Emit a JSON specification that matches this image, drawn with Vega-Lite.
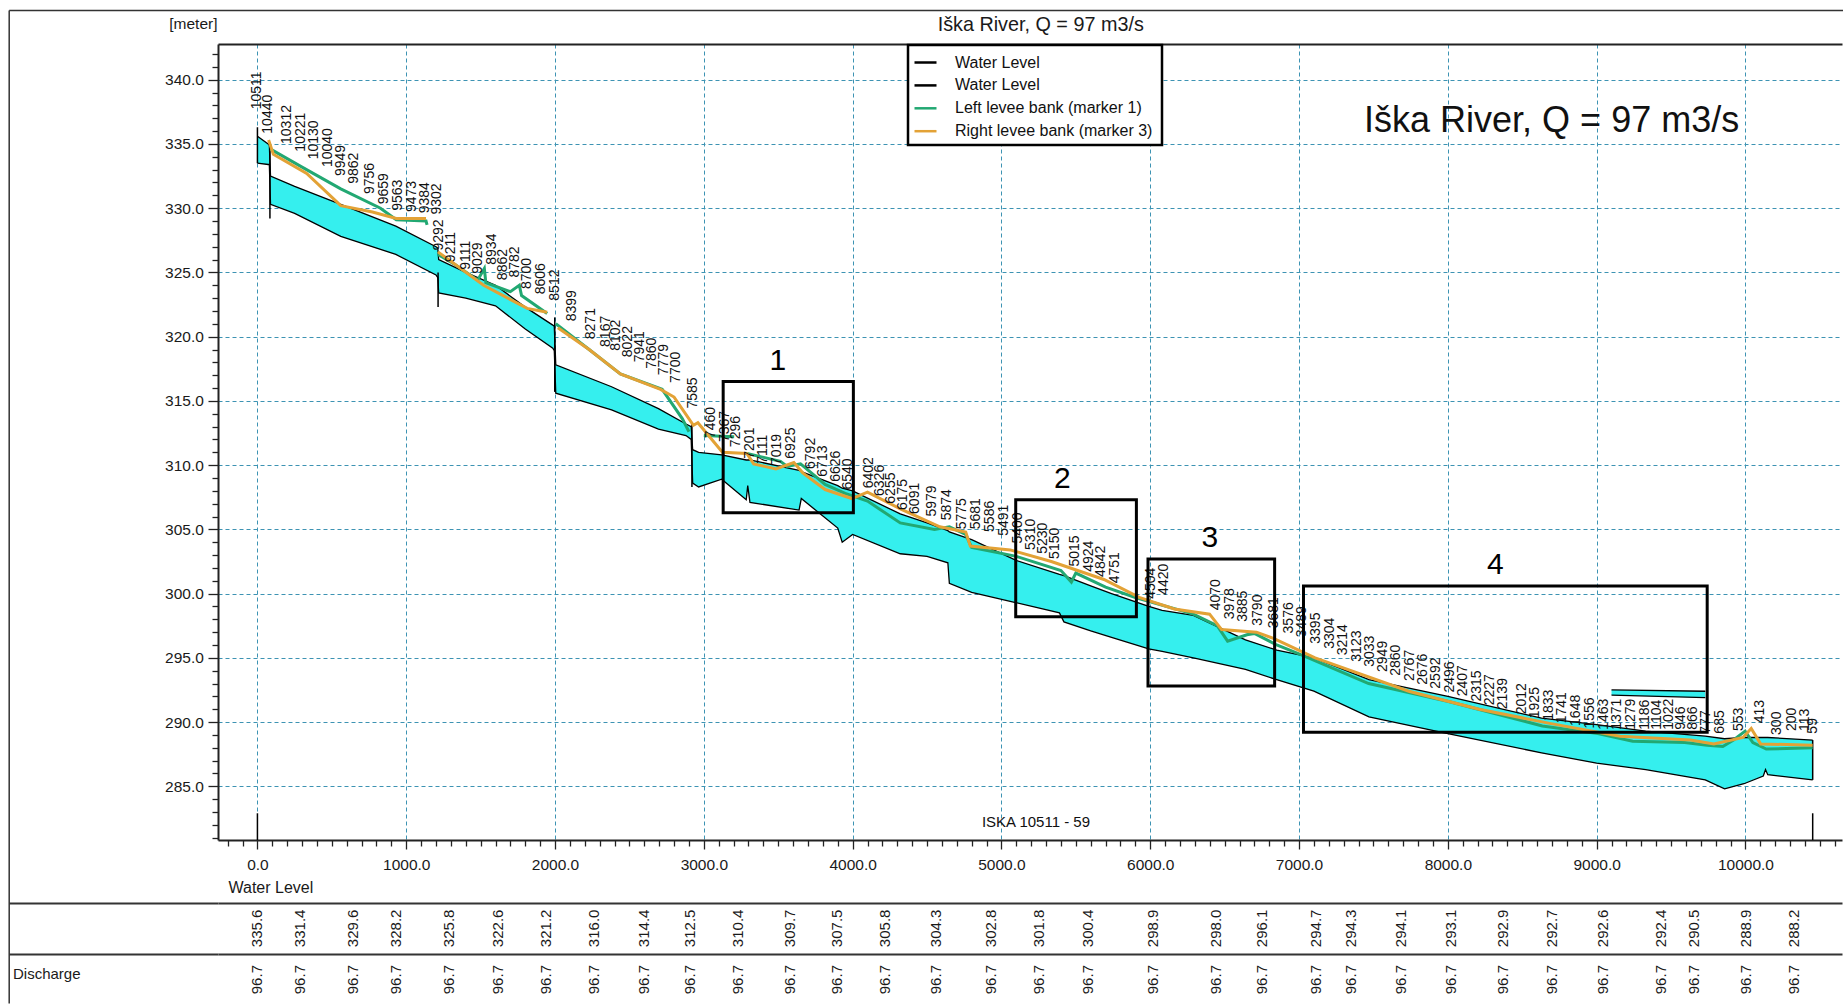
{
  "$schema": "https://vega.github.io/schema/vega-lite/v6.json",
  "padding": {"left": 7, "top": 10, "right": 0, "bottom": 0},
  "autosize": {"type": "pad"},
  "background": "white",
  "spacing": 63,
  "bounds": "flush",
  "config": {
    "font": "Liberation Sans",
    "view": {"stroke": null},
    "axis": {"labelFont": "Liberation Sans", "titleFont": "Liberation Sans", "labelColor": "#1a1a1a", "titleColor": "#1a1a1a", "titleFontWeight": "normal", "domainColor": "#222222", "tickColor": "#222222"},
    "legend": {"strokeWidth": 2.5}
  },
  "datasets": {
    "profile": [
      {"dist": 0, "wl": 335.6, "bed": 333.5, "seg": "A"},
      {"dist": 72, "wl": 335.0, "bed": 333.4, "seg": "A"},
      {"dist": 80, "wl": 334.9, "bed": 333.4, "seg": "A"},
      {"dist": 88, "wl": 332.5, "bed": 330.3, "seg": "A"},
      {"dist": 250, "wl": 331.7, "bed": 329.6, "seg": "A"},
      {"dist": 560, "wl": 330.3, "bed": 327.8, "seg": "A"},
      {"dist": 930, "wl": 328.6, "bed": 326.4, "seg": "A"},
      {"dist": 1200, "wl": 327.0, "bed": 324.8, "seg": "A"},
      {"dist": 1212, "wl": 326.9, "bed": 324.6, "seg": "A"},
      {"dist": 1218, "wl": 326.0, "bed": 323.4, "seg": "A"},
      {"dist": 1400, "wl": 325.0, "bed": 323.0, "seg": "A"},
      {"dist": 1600, "wl": 324.0, "bed": 322.4, "seg": "A"},
      {"dist": 1800, "wl": 322.3, "bed": 320.6, "seg": "A"},
      {"dist": 1985, "wl": 320.9, "bed": 319.1, "seg": "A"},
      {"dist": 1995, "wl": 320.8, "bed": 318.9, "seg": "A"},
      {"dist": 2005, "wl": 317.8, "bed": 315.6, "seg": "A"},
      {"dist": 2380, "wl": 316.1, "bed": 314.3, "seg": "A"},
      {"dist": 2695, "wl": 314.4, "bed": 312.8, "seg": "A"},
      {"dist": 2880, "wl": 313.2, "bed": 312.3, "seg": "A"},
      {"dist": 2915, "wl": 313.0, "bed": 312.0, "seg": "A"},
      {"dist": 2925, "wl": 311.2, "bed": 308.6, "seg": "A"},
      {"dist": 2965, "wl": 311.0, "bed": 308.3, "seg": "A"},
      {"dist": 3120, "wl": 310.8, "bed": 308.9, "seg": "A"},
      {"dist": 3285, "wl": 310.4, "bed": 307.3, "seg": "A"},
      {"dist": 3295, "wl": 310.4, "bed": 308.4, "seg": "A"},
      {"dist": 3310, "wl": 310.4, "bed": 307.1, "seg": "A"},
      {"dist": 3640, "wl": 309.6, "bed": 306.5, "seg": "A"},
      {"dist": 3655, "wl": 309.5, "bed": 307.4, "seg": "A"},
      {"dist": 3900, "wl": 308.4, "bed": 305.1, "seg": "A"},
      {"dist": 3930, "wl": 308.2, "bed": 304.0, "seg": "A"},
      {"dist": 4000, "wl": 308.0, "bed": 304.6, "seg": "A"},
      {"dist": 4320, "wl": 306.2, "bed": 303.1, "seg": "A"},
      {"dist": 4500, "wl": 305.5, "bed": 302.9, "seg": "A"},
      {"dist": 4640, "wl": 304.9, "bed": 302.4, "seg": "A"},
      {"dist": 4650, "wl": 304.8, "bed": 300.8, "seg": "A"},
      {"dist": 4800, "wl": 304.2, "bed": 300.1, "seg": "A"},
      {"dist": 5095, "wl": 302.6, "bed": 299.3, "seg": "A"},
      {"dist": 5390, "wl": 301.5, "bed": 298.5, "seg": "A"},
      {"dist": 5420, "wl": 301.4, "bed": 297.8, "seg": "A"},
      {"dist": 5600, "wl": 300.6, "bed": 297.1, "seg": "A"},
      {"dist": 5740, "wl": 300.0, "bed": 296.6, "seg": "A"},
      {"dist": 5990, "wl": 299.0, "bed": 295.7, "seg": "A"},
      {"dist": 6080, "wl": 298.7, "bed": 295.5, "seg": "A"},
      {"dist": 6290, "wl": 298.3, "bed": 295.0, "seg": "A"},
      {"dist": 6640, "wl": 296.4, "bed": 294.1, "seg": "A"},
      {"dist": 6850, "wl": 295.6, "bed": 293.3, "seg": "A"},
      {"dist": 7100, "wl": 295.0, "bed": 292.4, "seg": "A"},
      {"dist": 7470, "wl": 293.3, "bed": 290.4, "seg": "A"},
      {"dist": 8000, "wl": 292.0, "bed": 289.1, "seg": "A"},
      {"dist": 8630, "wl": 290.3, "bed": 287.6, "seg": "A"},
      {"dist": 9000, "wl": 289.8, "bed": 286.8, "seg": "A"},
      {"dist": 9330, "wl": 289.3, "bed": 286.3, "seg": "A"},
      {"dist": 9730, "wl": 288.9, "bed": 285.5, "seg": "A"},
      {"dist": 9860, "wl": 288.7, "bed": 284.8, "seg": "A"},
      {"dist": 9990, "wl": 288.8, "bed": 285.2, "seg": "A"},
      {"dist": 10120, "wl": 288.8, "bed": 285.8, "seg": "A"},
      {"dist": 10135, "wl": 288.8, "bed": 286.3, "seg": "A"},
      {"dist": 10150, "wl": 288.8, "bed": 285.9, "seg": "A"},
      {"dist": 10452, "wl": 288.6, "bed": 285.5, "seg": "A"},
      {"dist": 9100, "wl": 292.5, "bed": 292.1, "seg": "B"},
      {"dist": 9730, "wl": 292.4, "bed": 291.9, "seg": "B"}
    ],
    "levee": [
      {"dist": 88, "elev": 334.6, "series": "left", "seg": 1},
      {"dist": 300, "elev": 333.2, "series": "left", "seg": 1},
      {"dist": 560, "elev": 331.5, "series": "left", "seg": 1},
      {"dist": 827, "elev": 330.0, "series": "left", "seg": 1},
      {"dist": 933, "elev": 329.1, "series": "left", "seg": 1},
      {"dist": 1133, "elev": 329.0, "series": "left", "seg": 1},
      {"dist": 1140, "elev": 328.7, "series": "left", "seg": 1},
      {"dist": 1213, "elev": 326.4, "series": "left", "seg": 2},
      {"dist": 1330, "elev": 325.6, "series": "left", "seg": 2},
      {"dist": 1480, "elev": 324.4, "series": "left", "seg": 2},
      {"dist": 1525, "elev": 325.3, "series": "left", "seg": 2},
      {"dist": 1535, "elev": 324.2, "series": "left", "seg": 2},
      {"dist": 1700, "elev": 323.5, "series": "left", "seg": 2},
      {"dist": 1760, "elev": 324.0, "series": "left", "seg": 2},
      {"dist": 1775, "elev": 323.2, "series": "left", "seg": 2},
      {"dist": 1947, "elev": 321.8, "series": "left", "seg": 2},
      {"dist": 2005, "elev": 321.0, "series": "left", "seg": 3},
      {"dist": 2229, "elev": 319.0, "series": "left", "seg": 3},
      {"dist": 2439, "elev": 317.1, "series": "left", "seg": 3},
      {"dist": 2720, "elev": 315.9, "series": "left", "seg": 3},
      {"dist": 2856, "elev": 313.6, "series": "left", "seg": 3},
      {"dist": 2900, "elev": 312.6, "series": "left", "seg": 3},
      {"dist": 3000, "elev": 312.3, "series": "left", "seg": 4},
      {"dist": 3204, "elev": 312.2, "series": "left", "seg": 4},
      {"dist": 3290, "elev": 310.9, "series": "left", "seg": 5},
      {"dist": 3515, "elev": 310.3, "series": "left", "seg": 5},
      {"dist": 3560, "elev": 309.9, "series": "left", "seg": 5},
      {"dist": 3650, "elev": 310.1, "series": "left", "seg": 5},
      {"dist": 3815, "elev": 308.5, "series": "left", "seg": 5},
      {"dist": 3950, "elev": 307.8, "series": "left", "seg": 5},
      {"dist": 4100, "elev": 307.2, "series": "left", "seg": 5},
      {"dist": 4320, "elev": 305.5, "series": "left", "seg": 5},
      {"dist": 4550, "elev": 305.0, "series": "left", "seg": 5},
      {"dist": 4650, "elev": 305.2, "series": "left", "seg": 5},
      {"dist": 4760, "elev": 304.6, "series": "left", "seg": 5},
      {"dist": 4800, "elev": 303.6, "series": "left", "seg": 5},
      {"dist": 5100, "elev": 302.9, "series": "left", "seg": 5},
      {"dist": 5400, "elev": 301.8, "series": "left", "seg": 5},
      {"dist": 5470, "elev": 300.9, "series": "left", "seg": 5},
      {"dist": 5500, "elev": 301.6, "series": "left", "seg": 5},
      {"dist": 5700, "elev": 300.5, "series": "left", "seg": 5},
      {"dist": 5900, "elev": 299.7, "series": "left", "seg": 5},
      {"dist": 6290, "elev": 298.4, "series": "left", "seg": 5},
      {"dist": 6450, "elev": 297.5, "series": "left", "seg": 5},
      {"dist": 6520, "elev": 296.3, "series": "left", "seg": 5},
      {"dist": 6650, "elev": 296.8, "series": "left", "seg": 5},
      {"dist": 6700, "elev": 296.9, "series": "left", "seg": 5},
      {"dist": 6850, "elev": 296.0, "series": "left", "seg": 5},
      {"dist": 7000, "elev": 295.3, "series": "left", "seg": 5},
      {"dist": 7468, "elev": 293.0, "series": "left", "seg": 5},
      {"dist": 8005, "elev": 291.6, "series": "left", "seg": 5},
      {"dist": 8635, "elev": 289.7, "series": "left", "seg": 5},
      {"dist": 9008, "elev": 289.1, "series": "left", "seg": 5},
      {"dist": 9242, "elev": 288.5, "series": "left", "seg": 5},
      {"dist": 9592, "elev": 288.4, "series": "left", "seg": 5},
      {"dist": 9743, "elev": 288.2, "series": "left", "seg": 5},
      {"dist": 9848, "elev": 288.1, "series": "left", "seg": 5},
      {"dist": 9920, "elev": 288.6, "series": "left", "seg": 5},
      {"dist": 9998, "elev": 289.3, "series": "left", "seg": 5},
      {"dist": 10050, "elev": 288.4, "series": "left", "seg": 5},
      {"dist": 10140, "elev": 287.9, "series": "left", "seg": 5},
      {"dist": 10452, "elev": 288.0, "series": "left", "seg": 5},
      {"dist": 75, "elev": 335.3, "series": "right", "seg": 1},
      {"dist": 107, "elev": 334.2, "series": "right", "seg": 1},
      {"dist": 331, "elev": 332.7, "series": "right", "seg": 1},
      {"dist": 560, "elev": 330.2, "series": "right", "seg": 1},
      {"dist": 773, "elev": 329.7, "series": "right", "seg": 1},
      {"dist": 933, "elev": 329.2, "series": "right", "seg": 1},
      {"dist": 1133, "elev": 329.2, "series": "right", "seg": 1},
      {"dist": 1213, "elev": 326.6, "series": "right", "seg": 2},
      {"dist": 1520, "elev": 324.0, "series": "right", "seg": 2},
      {"dist": 1813, "elev": 322.2, "series": "right", "seg": 2},
      {"dist": 1947, "elev": 321.9, "series": "right", "seg": 2},
      {"dist": 2019, "elev": 320.7, "series": "right", "seg": 3},
      {"dist": 2229, "elev": 319.0, "series": "right", "seg": 3},
      {"dist": 2439, "elev": 317.1, "series": "right", "seg": 3},
      {"dist": 2709, "elev": 315.9, "series": "right", "seg": 3},
      {"dist": 2800, "elev": 315.3, "series": "right", "seg": 3},
      {"dist": 2930, "elev": 313.1, "series": "right", "seg": 3},
      {"dist": 2960, "elev": 313.3, "series": "right", "seg": 3},
      {"dist": 3125, "elev": 311.0, "series": "right", "seg": 3},
      {"dist": 3290, "elev": 310.9, "series": "right", "seg": 3},
      {"dist": 3335, "elev": 310.1, "series": "right", "seg": 3},
      {"dist": 3485, "elev": 309.7, "series": "right", "seg": 3},
      {"dist": 3605, "elev": 310.2, "series": "right", "seg": 3},
      {"dist": 3665, "elev": 309.4, "series": "right", "seg": 3},
      {"dist": 3815, "elev": 308.1, "series": "right", "seg": 3},
      {"dist": 3995, "elev": 307.4, "series": "right", "seg": 3},
      {"dist": 4100, "elev": 307.9, "series": "right", "seg": 3},
      {"dist": 4320, "elev": 306.6, "series": "right", "seg": 3},
      {"dist": 4586, "elev": 305.2, "series": "right", "seg": 3},
      {"dist": 4760, "elev": 304.8, "series": "right", "seg": 3},
      {"dist": 4791, "elev": 303.7, "series": "right", "seg": 3},
      {"dist": 5059, "elev": 303.4, "series": "right", "seg": 3},
      {"dist": 5335, "elev": 302.5, "series": "right", "seg": 3},
      {"dist": 5689, "elev": 301.1, "series": "right", "seg": 3},
      {"dist": 5926, "elev": 299.7, "series": "right", "seg": 3},
      {"dist": 6162, "elev": 298.8, "series": "right", "seg": 3},
      {"dist": 6399, "elev": 298.4, "series": "right", "seg": 3},
      {"dist": 6480, "elev": 297.2, "series": "right", "seg": 3},
      {"dist": 6714, "elev": 297.0, "series": "right", "seg": 3},
      {"dist": 6832, "elev": 296.5, "series": "right", "seg": 3},
      {"dist": 7108, "elev": 295.0, "series": "right", "seg": 3},
      {"dist": 7738, "elev": 292.4, "series": "right", "seg": 3},
      {"dist": 8211, "elev": 291.0, "series": "right", "seg": 3},
      {"dist": 8684, "elev": 289.9, "series": "right", "seg": 3},
      {"dist": 9157, "elev": 288.9, "series": "right", "seg": 3},
      {"dist": 9630, "elev": 288.6, "series": "right", "seg": 3},
      {"dist": 9788, "elev": 288.3, "series": "right", "seg": 3},
      {"dist": 9984, "elev": 288.8, "series": "right", "seg": 3},
      {"dist": 10039, "elev": 289.5, "series": "right", "seg": 3},
      {"dist": 10102, "elev": 288.3, "series": "right", "seg": 3},
      {"dist": 10452, "elev": 288.2, "series": "right", "seg": 3}
    ],
    "weirs": [
      {"dist": 0, "top": 336.3, "bottom": 333.5},
      {"dist": 84, "top": 334.7, "bottom": 329.2},
      {"dist": 1214, "top": 325.0, "bottom": 322.3},
      {"dist": 1998, "top": 321.5, "bottom": 315.7},
      {"dist": 2920, "top": 313.2, "bottom": 308.3},
      {"dist": 10452, "top": 288.6, "bottom": 285.5},
      {"dist": 0, "top": 282.9, "bottom": 280.82},
      {"dist": 10452, "top": 282.9, "bottom": 280.82}
    ],
    "sections": [
      {"id": "10511", "dist": 0, "elev": 337.7}, {"id": "10440", "dist": 71, "elev": 335.8}, {"id": "10312", "dist": 199, "elev": 335.0}, {"id": "10221", "dist": 290, "elev": 334.4}, {"id": "10130", "dist": 381, "elev": 333.8}, {"id": "10040", "dist": 471, "elev": 333.2}, {"id": "9949", "dist": 562, "elev": 332.5}, {"id": "9862", "dist": 649, "elev": 331.9}, {"id": "9756", "dist": 755, "elev": 331.1}, {"id": "9659", "dist": 852, "elev": 330.3}, {"id": "9563", "dist": 948, "elev": 329.8}, {"id": "9473", "dist": 1038, "elev": 329.7}, {"id": "9384", "dist": 1127, "elev": 329.6}, {"id": "9302", "dist": 1209, "elev": 329.5},
      {"id": "9292", "dist": 1219, "elev": 326.7}, {"id": "9211", "dist": 1300, "elev": 325.8}, {"id": "9111", "dist": 1400, "elev": 325.2}, {"id": "9029", "dist": 1482, "elev": 324.9}, {"id": "8934", "dist": 1577, "elev": 325.6}, {"id": "8862", "dist": 1649, "elev": 324.4}, {"id": "8782", "dist": 1729, "elev": 324.6}, {"id": "8700", "dist": 1811, "elev": 323.7}, {"id": "8606", "dist": 1905, "elev": 323.3}, {"id": "8512", "dist": 1999, "elev": 322.8},
      {"id": "8399", "dist": 2112, "elev": 321.2}, {"id": "8271", "dist": 2240, "elev": 319.8}, {"id": "8167", "dist": 2344, "elev": 319.2}, {"id": "8102", "dist": 2409, "elev": 318.9}, {"id": "8022", "dist": 2489, "elev": 318.4}, {"id": "7941", "dist": 2570, "elev": 318.0}, {"id": "7860", "dist": 2651, "elev": 317.5}, {"id": "7779", "dist": 2732, "elev": 317.0}, {"id": "7700", "dist": 2811, "elev": 316.4}, {"id": "7585", "dist": 2926, "elev": 314.4}, {"id": "7460", "dist": 3051, "elev": 312.1},
      {"id": "7367", "dist": 3144, "elev": 311.8}, {"id": "7296", "dist": 3215, "elev": 311.4}, {"id": "7201", "dist": 3310, "elev": 310.5}, {"id": "7111", "dist": 3400, "elev": 310.1}, {"id": "7019", "dist": 3492, "elev": 310.0}, {"id": "6925", "dist": 3586, "elev": 310.5}, {"id": "6792", "dist": 3719, "elev": 309.7}, {"id": "6713", "dist": 3798, "elev": 309.1}, {"id": "6626", "dist": 3885, "elev": 308.7}, {"id": "6540", "dist": 3971, "elev": 308.1}, {"id": "6402", "dist": 4109, "elev": 308.2},
      {"id": "6326", "dist": 4185, "elev": 307.6}, {"id": "6255", "dist": 4256, "elev": 307.0}, {"id": "6175", "dist": 4336, "elev": 306.5}, {"id": "6091", "dist": 4420, "elev": 306.2}, {"id": "5979", "dist": 4532, "elev": 306.0}, {"id": "5874", "dist": 4637, "elev": 305.7}, {"id": "5775", "dist": 4736, "elev": 305.0}, {"id": "5681", "dist": 4830, "elev": 305.0}, {"id": "5586", "dist": 4925, "elev": 304.8}, {"id": "5491", "dist": 5020, "elev": 304.5}, {"id": "5400", "dist": 5111, "elev": 303.9},
      {"id": "5310", "dist": 5201, "elev": 303.4}, {"id": "5230", "dist": 5281, "elev": 303.1}, {"id": "5150", "dist": 5361, "elev": 302.7}, {"id": "5015", "dist": 5496, "elev": 302.1}, {"id": "4924", "dist": 5587, "elev": 301.7}, {"id": "4842", "dist": 5669, "elev": 301.3}, {"id": "4751", "dist": 5760, "elev": 300.8},
      {"id": "4504", "dist": 6007, "elev": 299.6}, {"id": "4420", "dist": 6091, "elev": 299.9}, {"id": "4070", "dist": 6441, "elev": 298.7}, {"id": "3978", "dist": 6533, "elev": 298.0}, {"id": "3885", "dist": 6626, "elev": 297.8}, {"id": "3790", "dist": 6721, "elev": 297.5}, {"id": "3681", "dist": 6830, "elev": 297.3},
      {"id": "3576", "dist": 6935, "elev": 296.9}, {"id": "3489", "dist": 7022, "elev": 296.6}, {"id": "3395", "dist": 7116, "elev": 296.1}, {"id": "3304", "dist": 7207, "elev": 295.7}, {"id": "3214", "dist": 7297, "elev": 295.2}, {"id": "3123", "dist": 7388, "elev": 294.7}, {"id": "3033", "dist": 7478, "elev": 294.3}, {"id": "2949", "dist": 7562, "elev": 293.9}, {"id": "2860", "dist": 7651, "elev": 293.6}, {"id": "2767", "dist": 7744, "elev": 293.2}, {"id": "2676", "dist": 7835, "elev": 292.9}, {"id": "2592", "dist": 7919, "elev": 292.6}, {"id": "2496", "dist": 8015, "elev": 292.3}, {"id": "2407", "dist": 8104, "elev": 292.0}, {"id": "2315", "dist": 8196, "elev": 291.6}, {"id": "2227", "dist": 8284, "elev": 291.3}, {"id": "2139", "dist": 8372, "elev": 291.0}, {"id": "2012", "dist": 8499, "elev": 290.6}, {"id": "1925", "dist": 8586, "elev": 290.3}, {"id": "1833", "dist": 8678, "elev": 290.1}, {"id": "1741", "dist": 8770, "elev": 289.9}, {"id": "1648", "dist": 8863, "elev": 289.7}, {"id": "1556", "dist": 8955, "elev": 289.5}, {"id": "1463", "dist": 9048, "elev": 289.4}, {"id": "1371", "dist": 9140, "elev": 289.4}, {"id": "1279", "dist": 9232, "elev": 289.4}, {"id": "1186", "dist": 9325, "elev": 289.4}, {"id": "1104", "dist": 9407, "elev": 289.4}, {"id": "1022", "dist": 9489, "elev": 289.4}, {"id": "946", "dist": 9565, "elev": 289.4}, {"id": "866", "dist": 9645, "elev": 289.4}, {"id": "777", "dist": 9734, "elev": 289.1}, {"id": "685", "dist": 9826, "elev": 289.1}, {"id": "553", "dist": 9958, "elev": 289.3}, {"id": "413", "dist": 10098, "elev": 289.9}, {"id": "300", "dist": 10211, "elev": 289.0}, {"id": "200", "dist": 10311, "elev": 289.3}, {"id": "113", "dist": 10398, "elev": 289.3}, {"id": "59", "dist": 10452, "elev": 289.1}
    ],
    "boxes": [
      {"box": "1", "d1": 3130, "d2": 4005, "lo": 306.3, "hi": 316.5, "cdist": 3498},
      {"box": "2", "d1": 5096, "d2": 5907, "lo": 298.2, "hi": 307.3, "cdist": 5409},
      {"box": "3", "d1": 5985, "d2": 6836, "lo": 292.8, "hi": 302.7, "cdist": 6400},
      {"box": "4", "d1": 7030, "d2": 9743, "lo": 289.2, "hi": 300.6, "cdist": 8320}
    ],
    "table": [
      {"dist": 0, "row": "Water Level", "val": 335.6}, {"dist": 285, "row": "Water Level", "val": 331.4}, {"dist": 640, "row": "Water Level", "val": 329.6}, {"dist": 930, "row": "Water Level", "val": 328.2}, {"dist": 1285, "row": "Water Level", "val": 325.8}, {"dist": 1620, "row": "Water Level", "val": 322.6}, {"dist": 1940, "row": "Water Level", "val": 321.2}, {"dist": 2265, "row": "Water Level", "val": 316.0}, {"dist": 2596, "row": "Water Level", "val": 314.4}, {"dist": 2905, "row": "Water Level", "val": 312.5}, {"dist": 3230, "row": "Water Level", "val": 310.4}, {"dist": 3578, "row": "Water Level", "val": 309.7}, {"dist": 3895, "row": "Water Level", "val": 307.5}, {"dist": 4215, "row": "Water Level", "val": 305.8}, {"dist": 4560, "row": "Water Level", "val": 304.3}, {"dist": 4930, "row": "Water Level", "val": 302.8}, {"dist": 5250, "row": "Water Level", "val": 301.8}, {"dist": 5585, "row": "Water Level", "val": 300.4}, {"dist": 6020, "row": "Water Level", "val": 298.9}, {"dist": 6445, "row": "Water Level", "val": 298.0}, {"dist": 6752, "row": "Water Level", "val": 296.1}, {"dist": 7117, "row": "Water Level", "val": 294.7}, {"dist": 7347, "row": "Water Level", "val": 294.3}, {"dist": 7687, "row": "Water Level", "val": 294.1}, {"dist": 8019, "row": "Water Level", "val": 293.1}, {"dist": 8374, "row": "Water Level", "val": 292.9}, {"dist": 8698, "row": "Water Level", "val": 292.7}, {"dist": 9046, "row": "Water Level", "val": 292.6}, {"dist": 9433, "row": "Water Level", "val": 292.4}, {"dist": 9654, "row": "Water Level", "val": 290.5}, {"dist": 10001, "row": "Water Level", "val": 288.9}, {"dist": 10325, "row": "Water Level", "val": 288.2},
      {"dist": 0, "row": "Discharge", "val": 96.7}, {"dist": 285, "row": "Discharge", "val": 96.7}, {"dist": 640, "row": "Discharge", "val": 96.7}, {"dist": 930, "row": "Discharge", "val": 96.7}, {"dist": 1285, "row": "Discharge", "val": 96.7}, {"dist": 1620, "row": "Discharge", "val": 96.7}, {"dist": 1940, "row": "Discharge", "val": 96.7}, {"dist": 2265, "row": "Discharge", "val": 96.7}, {"dist": 2596, "row": "Discharge", "val": 96.7}, {"dist": 2905, "row": "Discharge", "val": 96.7}, {"dist": 3230, "row": "Discharge", "val": 96.7}, {"dist": 3578, "row": "Discharge", "val": 96.7}, {"dist": 3895, "row": "Discharge", "val": 96.7}, {"dist": 4215, "row": "Discharge", "val": 96.7}, {"dist": 4560, "row": "Discharge", "val": 96.7}, {"dist": 4930, "row": "Discharge", "val": 96.7}, {"dist": 5250, "row": "Discharge", "val": 96.7}, {"dist": 5585, "row": "Discharge", "val": 96.7}, {"dist": 6020, "row": "Discharge", "val": 96.7}, {"dist": 6445, "row": "Discharge", "val": 96.7}, {"dist": 6752, "row": "Discharge", "val": 96.7}, {"dist": 7117, "row": "Discharge", "val": 96.7}, {"dist": 7347, "row": "Discharge", "val": 96.7}, {"dist": 7687, "row": "Discharge", "val": 96.7}, {"dist": 8019, "row": "Discharge", "val": 96.7}, {"dist": 8374, "row": "Discharge", "val": 96.7}, {"dist": 8698, "row": "Discharge", "val": 96.7}, {"dist": 9046, "row": "Discharge", "val": 96.7}, {"dist": 9433, "row": "Discharge", "val": 96.7}, {"dist": 9654, "row": "Discharge", "val": 96.7}, {"dist": 10001, "row": "Discharge", "val": 96.7}, {"dist": 10325, "row": "Discharge", "val": 96.7}
    ]
  },
  "vconcat": [
    {
      "width": 1624,
      "height": 796,
      "resolve": {"scale": {"x": "independent", "y": "independent"}, "axis": {"x": "independent", "y": "independent"}},
      "layer": [
        {
          "data": {"values": [{}]},
          "mark": {"type": "point", "opacity": 0, "size": 1},
          "encoding": {
            "x": {"datum": 0.5, "type": "quantitative", "scale": {"domain": [0, 1], "range": [-209.3, 1625.7], "nice": false, "zero": false},
              "axis": {"orient": "top", "offset": 34, "domain": true, "domainColor": "#333333", "domainWidth": 1.5, "ticks": false, "labels": false, "grid": false, "title": null}},
            "y": {"datum": 0.5, "type": "quantitative", "scale": {"domain": [0, 1], "range": [959, -34], "nice": false, "zero": false},
              "axis": {"orient": "left", "offset": 209.3, "domain": true, "domainColor": "#333333", "domainWidth": 1.5, "ticks": false, "labels": false, "grid": false, "title": null}}
          }
        },
        {
          "resolve": {"axis": {"x": "independent"}},
          "layer": [
            {
              "data": {"name": "profile"},
              "mark": {"type": "area", "color": "#35efee", "opacity": 1, "clip": true},
              "encoding": {
                "x": {"field": "dist", "type": "quantitative", "scale": {"domain": [-265, 10649], "nice": false, "zero": false},
                  "axis": {"orient": "bottom", "title": "Water Level", "titleX": 10, "titleY": 52, "titleAlign": "left", "titleAnchor": "start", "titleBaseline": "alphabetic", "titleFontSize": 16, "titleAngle": 0,
                    "tickCount": 110, "labelExpr": "datum.value % 1000 === 0 ? format(datum.value, '.1f') : ''",
                    "labelFontSize": 15.5, "labelPadding": 8, "labelOverlap": false, "labelFlush": false,
                    "tickSize": {"condition": {"test": "datum.value % 1000 === 0", "value": 9}, "value": 6},
                    "tickWidth": 1.3, "domainWidth": 2, "grid": true, "gridColor": "#3d93b3", "gridDash": [4, 3], "gridWidth": 1,
                    "gridOpacity": {"condition": {"test": "datum.value % 1000 === 0", "value": 1}, "value": 0}}},
                "y": {"field": "wl", "type": "quantitative", "scale": {"domain": [280.82, 342.78], "nice": false, "zero": false},
                  "axis": {"orient": "left", "title": "[meter]", "titleAngle": 0, "titleAlign": "right", "titleBaseline": "alphabetic", "titleX": -1, "titleY": -16, "titleFontSize": 15.5,
                    "tickCount": 62, "labelExpr": "datum.value % 5 === 0 ? format(datum.value, '.1f') : ''",
                    "labelFontSize": 15.5, "labelPadding": 4.6, "labelOverlap": false, "labelFlush": false,
                    "tickSize": {"condition": {"test": "datum.value % 5 === 0", "value": 10}, "value": 6},
                    "tickWidth": 1.3, "domainWidth": 2, "grid": true, "gridColor": "#3d93b3", "gridDash": [4, 3], "gridWidth": 1,
                    "gridOpacity": {"condition": {"test": "datum.value % 5 === 0", "value": 1}, "value": 0}}},
                "y2": {"field": "bed"},
                "detail": {"field": "seg"}
              }
            },
            {
              "data": {"name": "profile"},
              "transform": [{"fold": ["wl", "bed"], "as": ["series", "elev"]}],
              "mark": {"type": "line", "strokeWidth": 1.3, "clip": true},
              "encoding": {
                "x": {"field": "dist", "type": "quantitative", "axis": null},
                "y": {"field": "elev", "type": "quantitative"},
                "color": {"field": "series", "type": "nominal",
                  "scale": {"domain": ["wl", "bed", "left", "right"], "range": ["#000000", "#000000", "#22a872", "#e3a236"]},
                  "legend": {"title": null, "orient": "none", "legendX": 690, "legendY": 1, "direction": "vertical",
                    "labelExpr": "datum.value === 'left' ? 'Left levee bank (marker 1)' : datum.value === 'right' ? 'Right levee bank  (marker 3)' : 'Water Level'",
                    "symbolType": "stroke", "symbolSize": 484, "symbolStrokeWidth": 2.5,
                    "labelFontSize": 16, "labelFont": "Liberation Sans", "labelColor": "#111111", "labelOffset": 17, "rowPadding": 1.9,
                    "padding": 5, "strokeColor": "#000000", "fillColor": "#ffffff", "labelLimit": 400}},
                "detail": {"field": "seg"}
              }
            },
            {
              "data": {"name": "weirs"},
              "mark": {"type": "rule", "color": "#000000", "strokeWidth": 1.5},
              "encoding": {
                "x": {"field": "dist", "type": "quantitative",
                  "axis": {"orient": "top", "domain": true, "domainWidth": 2, "domainColor": "#222222", "ticks": false, "labels": false, "grid": false, "title": null}},
                "y": {"field": "top", "type": "quantitative"},
                "y2": {"field": "bottom"}
              }
            },
            {
              "data": {"name": "levee"},
              "mark": {"type": "line", "strokeWidth": 3, "clip": true},
              "encoding": {
                "x": {"field": "dist", "type": "quantitative", "axis": null},
                "y": {"field": "elev", "type": "quantitative"},
                "color": {"field": "series", "type": "nominal"},
                "detail": {"field": "seg"}
              }
            },
            {
              "data": {"name": "sections"},
              "mark": {"type": "text", "angle": 270, "align": "left", "baseline": "middle", "fontSize": 14, "font": "Liberation Sans", "color": "#111111"},
              "encoding": {
                "x": {"field": "dist", "type": "quantitative", "axis": null},
                "y": {"field": "elev", "type": "quantitative"},
                "text": {"field": "id", "type": "nominal"}
              }
            },
            {
              "data": {"name": "boxes"},
              "mark": {"type": "rect", "filled": false, "color": "#000000", "strokeWidth": 3},
              "encoding": {
                "x": {"field": "d1", "type": "quantitative", "axis": null},
                "x2": {"field": "d2"},
                "y": {"field": "lo", "type": "quantitative"},
                "y2": {"field": "hi"}
              }
            },
            {
              "data": {"name": "boxes"},
              "mark": {"type": "text", "fontSize": 30, "baseline": "bottom", "align": "center", "dy": -6, "font": "Liberation Sans", "color": "#000000"},
              "encoding": {
                "x": {"field": "cdist", "type": "quantitative", "axis": null},
                "y": {"field": "hi", "type": "quantitative"},
                "text": {"field": "box", "type": "nominal"}
              }
            },
            {
              "data": {"values": [{}]},
              "mark": {"type": "text", "text": "Iška River, Q = 97 m3/s", "fontSize": 36, "align": "left", "baseline": "alphabetic", "font": "Liberation Sans", "color": "#111111"},
              "encoding": {"x": {"datum": 7437, "axis": null}, "y": {"datum": 335.9}}
            },
            {
              "data": {"values": [{}]},
              "mark": {"type": "text", "text": "Iška River, Q = 97 m3/s", "fontSize": 19.8, "align": "center", "baseline": "alphabetic", "font": "Liberation Sans", "color": "#1a1a1a"},
              "encoding": {"x": {"datum": 5264, "axis": null}, "y": {"datum": 343.81}}
            },
            {
              "data": {"values": [{}]},
              "mark": {"type": "text", "text": "ISKA  10511 - 59", "fontSize": 15, "align": "center", "baseline": "middle", "font": "Liberation Sans", "color": "#111111"},
              "encoding": {"x": {"datum": 5232, "axis": null}, "y": {"datum": 282.2}}
            }
          ]
        }
      ]
    },
    {
      "width": 1624,
      "height": 102,
      "data": {"name": "table"},
      "mark": {"type": "text", "angle": 270, "fontSize": 15, "align": "center", "baseline": "middle", "font": "Liberation Sans", "color": "#1a1a1a"},
      "encoding": {
        "x": {"field": "dist", "type": "quantitative", "scale": {"domain": [-265, 10649], "nice": false, "zero": false}, "axis": null},
        "y": {"field": "row", "type": "nominal", "sort": ["Water Level", "Discharge"], "scale": {"type": "band", "paddingInner": 0.01, "paddingOuter": 0},
          "axis": {"title": null, "bandPosition": 0, "grid": true, "gridColor": "#333333", "gridWidth": 2, "gridOpacity": 1, "tickSize": 209.3, "tickColor": "#333333", "tickWidth": 2, "domain": false,
            "labelAlign": "left", "labelPadding": -3.8, "labelOffset": -6, "labelFontSize": 15, "labelColor": "#1a1a1a",
            "labelExpr": "datum.value === 'Discharge' ? 'Discharge' : ''"}},
        "text": {"field": "val", "type": "quantitative", "format": ".1f"}
      }
    }
  ],
  "resolve": {"scale": {"x": "independent", "y": "independent"}}
}
